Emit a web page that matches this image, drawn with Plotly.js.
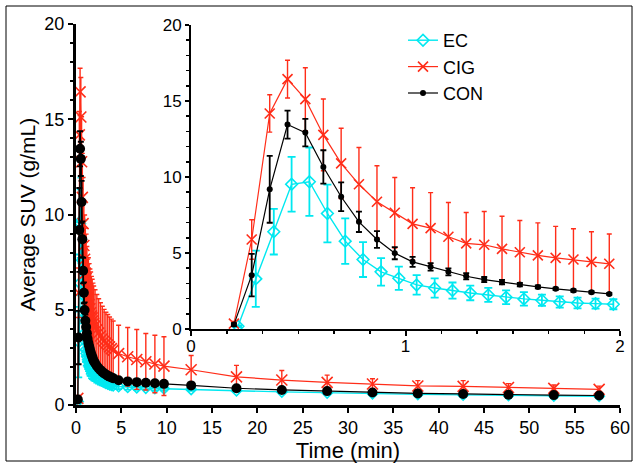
<!DOCTYPE html>
<html>
<head>
<meta charset="utf-8">
<script src="https://cdn.plot.ly/plotly-3.0.1.min.js"></script>
<style>
html,body{margin:0;padding:0;background:#fff;}
#chart{width:638px;height:465px;}
</style>
</head>
<body>
<div id="chart"></div>
<script>
// ---- Data (time in minutes, SUV in g/mL) ----
const timeCON = [0.200,0.283,0.367,0.450,0.533,0.617,0.700,0.783,0.867,0.950,1.033,1.117,1.200,1.283,1.367,1.450,1.533,1.617,1.700,1.783,1.867,1.950,
  2.1,2.3,2.5,2.7,2.9,3.1,3.3,3.5,3.7,3.9,4.1,4.7,5.7,6.7,7.7,8.7,9.7,12.7,17.7,22.7,27.7,32.7,37.7,42.7,47.7,52.7,57.7];
const timeEC = [0.219,0.302,0.386,0.469,0.552,0.636,0.719,0.802,0.886,0.969,1.052,1.136,1.219,1.302,1.386,1.469,1.552,1.636,1.719,1.802,1.886,1.969,
  2.1,2.3,2.5,2.7,2.9,3.1,3.3,3.5,3.7,3.9,4.1,4.7,5.7,6.7,7.7,8.7,9.7,12.7,17.7,22.7,27.7,32.7,37.7,42.7,47.7,52.7,57.7];

const conMean = [0.29,3.54,9.19,13.45,12.92,10.66,8.70,7.05,5.89,4.99,4.42,4.09,3.76,3.47,3.25,3.08,2.92,2.77,2.64,2.53,2.42,2.31,
  2.20,2.05,1.93,1.83,1.74,1.66,1.60,1.54,1.49,1.45,1.41,1.30,1.24,1.20,1.17,1.14,1.11,1.03,0.88,0.79,0.73,0.66,0.61,0.58,0.54,0.52,0.50];
const conErr = [0.10,1.40,2.20,0.92,0.90,1.10,0.94,0.67,0.55,0.40,0.33,0.25,0.23,0.20,0.17,0.15,0.12,0.10,0.08,0.08,0.07,0.07,
  0.07,0.06,0.06,0.06,0.05,0.05,0.05,0.05,0.05,0.05,0.05,0.05,0.05,0.05,0.05,0.05,0.05,0.05,0.04,0.04,0.04,0.04,0.04,0.04,0.04,0.04,0.04];

const cigMean = [0.35,5.89,14.18,16.44,15.12,12.77,10.90,9.52,8.37,7.65,6.92,6.64,6.07,5.63,5.54,5.27,5.05,4.84,4.68,4.57,4.42,4.29,
  4.15,3.95,3.78,3.62,3.48,3.36,3.25,3.15,3.05,2.96,2.88,2.70,2.53,2.39,2.27,2.15,2.04,1.85,1.48,1.31,1.19,1.10,1.00,0.98,0.92,0.87,0.82];
const cigErr = [0.15,1.30,1.23,1.24,2.07,2.36,2.31,2.42,2.37,2.32,2.37,2.33,2.25,2.03,2.19,2.15,2.09,2.14,2.07,2.03,1.98,1.96,
  1.90,1.85,1.80,1.75,1.70,1.66,1.62,1.60,1.57,1.55,1.53,1.49,1.54,1.57,1.48,1.51,1.54,0.75,0.60,0.50,0.38,0.28,0.28,0.30,0.20,0.18,0.17];

const ecMean = [0.18,3.30,6.40,9.52,9.69,7.60,5.78,4.57,3.76,3.34,2.90,2.70,2.53,2.37,2.24,2.09,1.98,1.89,1.78,1.71,1.67,1.63,
  1.55,1.46,1.38,1.31,1.25,1.20,1.15,1.11,1.07,1.04,1.01,0.97,0.93,0.91,0.89,0.87,0.86,0.82,0.75,0.69,0.64,0.60,0.56,0.53,0.50,0.48,0.46];
const ecErr = [0.05,1.85,1.50,1.80,2.25,1.90,1.50,1.15,0.90,0.76,0.64,0.63,0.53,0.48,0.46,0.45,0.44,0.37,0.37,0.35,0.33,0.33,
  0.30,0.28,0.26,0.24,0.22,0.20,0.19,0.18,0.17,0.16,0.15,0.14,0.12,0.11,0.10,0.10,0.10,0.08,0.06,0.05,0.05,0.04,0.04,0.04,0.04,0.04,0.04];

const mainXTicks = [0,5,10,15,20,25,30,35,40,45,50,55,60];
const yTicks = [0,5,10,15,20];
const insetXTicks = [0,1,2];

// ---- Styles ----
const RED = 'rgb(255,45,25)', CYAN = 'rgb(0,232,240)', BLACK = 'rgb(0,0,0)';
const FONT = 'Liberation Sans, Arial, Helvetica, sans-serif';

function sub(arr, t, max){ return arr.filter((v,i)=>t[i] <= max); }

function series(name, t, m, e, color, sym, msize, lw, ebw, ebthick, axes, inset){
  const tt = inset ? sub(t,t,2) : t;
  const mm = inset ? sub(m,t,2) : m;
  const ee = inset ? sub(e,t,2) : e;
  return {
    type:'scatter', mode:'lines+markers', name:name,
    x:tt, y:mm,
    xaxis:axes[0], yaxis:axes[1],
    showlegend: inset, legendrank: {EC:1,CIG:2,CON:3}[name],
    line:{color:color, width:lw},
    marker:{symbol:sym, size:msize, color:color,
            line:{color:color, width: sym === 'circle' ? 0 : 1.6}},
    error_y:{type:'data', array:ee, visible:true, color:color, thickness:ebthick, width:ebw},
    cliponaxis:true
  };
}

const traces = [
  // main
  series('EC', timeEC, ecMean, ecErr, CYAN, 'diamond-open', 8, 1.4, 3.5, 1.8, ['x','y'], false),
  series('CIG', timeCON, cigMean, cigErr, RED, 'x-thin-open', 11, 1.2, 2.5, 1.4, ['x','y'], false),
  series('CON', timeCON, conMean, conErr, BLACK, 'circle', 10, 1.2, 3, 1.8, ['x','y'], false),
  // inset
  series('EC', timeEC, ecMean, ecErr, CYAN, 'diamond-open', 9, 1.4, 4, 1.8, ['x2','y2'], true),
  series('CIG', timeCON, cigMean, cigErr, RED, 'x-thin-open', 10, 1.2, 2.5, 1.4, ['x2','y2'], true),
  series('CON', timeCON, conMean, conErr, BLACK, 'circle', 6, 1.2, 3, 1.8, ['x2','y2'], true)
];

const axisBase = {showgrid:false, zeroline:false, showline:true, linecolor:'black',
  ticks:'outside', tickcolor:'black', tickfont:{family:FONT, size:18, color:'black'}, fixedrange:true};

const ML=76, MR=18, MT=24, MB=60, W=638, H=465;
const PW = W-ML-MR, PH = H-MT-MB;
const px2x = p => (p-ML)/PW;
const py2y = p => (H-MB-p)/PH;

const layout = {
  width:W, height:H,
  margin:{l:ML, r:MR, t:MT, b:MB, pad:0},
  paper_bgcolor:'white', plot_bgcolor:'rgba(0,0,0,0)',
  font:{family:FONT, color:'black'},
  showlegend:true,
  legend:{x:px2x(403), y:py2y(22), xanchor:'left', yanchor:'top',
    font:{family:FONT, size:18, color:'black'}, bgcolor:'rgba(0,0,0,0)',
    traceorder:'normal', itemwidth:30, tracegroupgap:0},
  xaxis:Object.assign({}, axisBase, {domain:[0,1], range:[0,60], tickmode:'array', tickvals:mainXTicks,
    ticklen:5, tickwidth:2, linewidth:2.5,
    title:{text:'Time (min)', font:{family:FONT, size:22, color:'black'}, standoff:0}, automargin:false}),
  yaxis:Object.assign({}, axisBase, {domain:[0,1], range:[0,20], tickmode:'array', tickvals:yTicks,
    ticklen:5, tickwidth:2, linewidth:3,
    minor:{dtick:1, tick0:0, ticks:'outside', ticklen:3, tickwidth:2, tickcolor:'black', showgrid:false},
    title:{text:'Average SUV (g/mL)', font:{family:FONT, size:21, color:'black'}, standoff:4}, automargin:false}),
  xaxis2:Object.assign({}, axisBase, {domain:[px2x(191),1], anchor:'y2', range:[0,2], tickmode:'array', tickvals:insetXTicks,
    ticklen:5, tickwidth:2, linewidth:2, tickfont:{family:FONT, size:17, color:'black'}, ticklabelstandoff:-4,
    minor:{dtick:1/6, tick0:0, ticks:'outside', ticklen:3, tickwidth:1.5, tickcolor:'black', showgrid:false}}),
  yaxis2:Object.assign({}, axisBase, {domain:[py2y(329), py2y(25)], anchor:'x2', range:[0,20], tickmode:'array', tickvals:yTicks,
    ticklen:4, tickwidth:2, linewidth:2, tickfont:{family:FONT, size:17, color:'black'},
    minor:{dtick:1, tick0:0, ticks:'outside', ticklen:3, tickwidth:1.5, tickcolor:'black', showgrid:false}}),
  shapes:[{type:'rect', xref:'paper', yref:'paper', x0:px2x(6), x1:px2x(632), y0:py2y(461), y1:py2y(6),
    line:{color:'black', width:1}, fillcolor:'rgba(0,0,0,0)', layer:'below'}]
};

Plotly.newPlot('chart', traces, layout, {staticPlot:true, displayModeBar:false});
</script>
</body>
</html>
